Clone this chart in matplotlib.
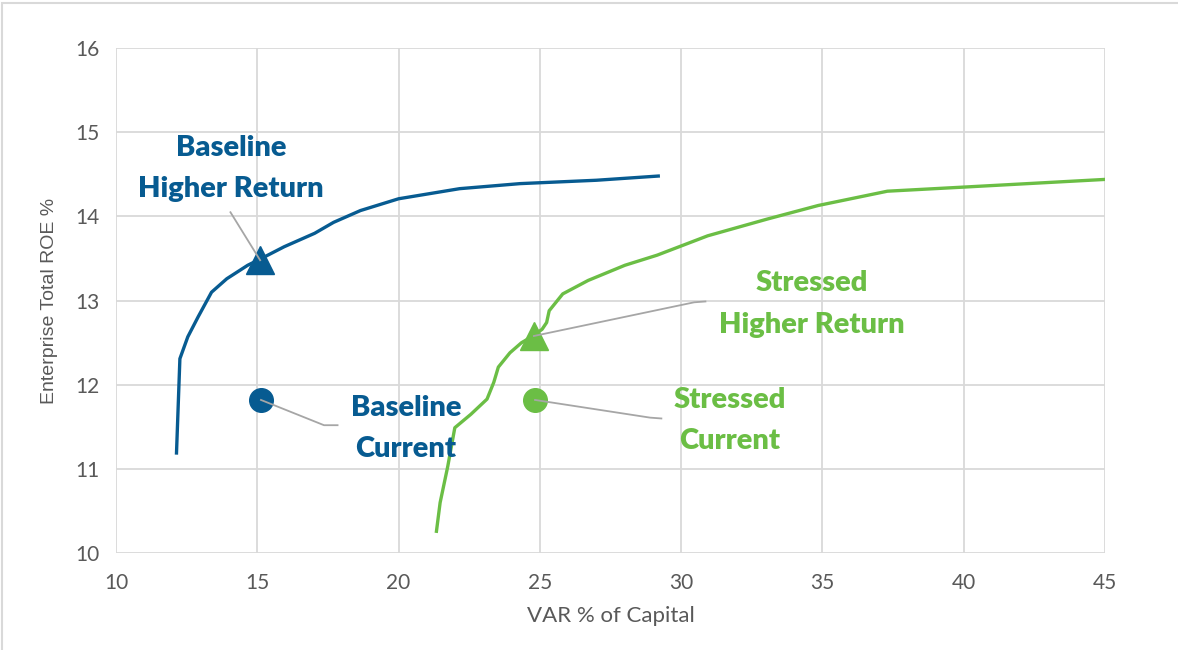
import matplotlib.pyplot as plt
from matplotlib.patches import Rectangle

# frontier curves
base_var = [12.14, 12.26, 12.54, 12.91, 13.38, 13.92, 14.66, 15.14, 15.95, 17.03,
            17.7, 18.65, 20.0, 22.16, 24.3, 27.0, 29.19]
base_roe = [11.19, 12.31, 12.57, 12.81, 13.1, 13.26, 13.42, 13.5, 13.64, 13.8,
            13.93, 14.07, 14.21, 14.33, 14.39, 14.43, 14.48]

stress_var = [21.34, 21.47, 21.74, 21.99, 22.56, 23.13, 23.37, 23.53, 23.94, 24.35,
              24.76, 25.08, 25.24, 25.33, 25.81, 26.71, 28.01, 29.15, 30.94, 33.06,
              34.85, 37.3, 40.07, 45.0]
stress_roe = [10.26, 10.6, 11.03, 11.49, 11.65, 11.83, 12.03, 12.21, 12.38, 12.5,
              12.58, 12.66, 12.74, 12.88, 13.08, 13.24, 13.42, 13.54, 13.77, 13.97,
              14.13, 14.3, 14.35, 14.44]

# portfolio points: (var, roe)
base_higher = (15.1, 13.48)
base_current = (15.13, 11.82)
stress_higher = (24.79, 12.58)
stress_current = (24.83, 11.82)

x_ticks = [10, 15, 20, 25, 30, 35, 40, 45]
y_ticks = [10, 11, 12, 13, 14, 15, 16]

blue = '#075B91'
green = '#6BBE45'
leader = '#A6A6A6'
label_font = 'Lato'

fig = plt.figure(figsize=(11.78, 6.5), dpi=100)
fig.patches.append(Rectangle((0.002, -0.05), 1.2, 1.045, transform=fig.transFigure,
                             fill=False, edgecolor='#D9D9D9', linewidth=1.5))
ax = fig.add_axes([0.0985, 0.149, 0.8395, 0.777])

ax.plot(base_var, base_roe, color=blue, linewidth=2.4, zorder=3)
ax.plot(stress_var, stress_roe, color=green, linewidth=2.4, zorder=3)

ax.plot(*base_higher, marker='^', markersize=20, color=blue, zorder=4)
ax.plot(*base_current, marker='o', markersize=17, color=blue, zorder=4)
ax.plot(*stress_higher, marker='^', markersize=20, color=green, zorder=4)
ax.plot(*stress_current, marker='o', markersize=17, color=green, zorder=4)

# leader lines from labels to points
ax.plot([14.05, base_higher[0]], [14.05, base_higher[1]], color=leader, lw=1.3, zorder=5)
ax.plot([base_current[0], 17.36, 17.84], [base_current[1], 11.52, 11.52], color=leader, lw=1.3, zorder=5)
ax.plot([stress_higher[0], 30.46, 30.86], [stress_higher[1], 12.98, 12.99], color=leader, lw=1.3, zorder=5)
ax.plot([stress_current[0], 28.9, 29.3], [stress_current[1], 11.61, 11.6], color=leader, lw=1.3, zorder=5)

lbl = dict(ha='center', va='center', fontsize=21, fontweight='heavy', family=label_font,
           linespacing=1.72, zorder=6)
ax.text(14.07, 14.57, 'Baseline\nHigher Return', color=blue, **lbl)
ax.text(20.26, 11.48, 'Baseline\nCurrent', color=blue, **lbl)
ax.text(34.63, 12.96, 'Stressed\nHigher Return', color=green, **lbl)
ax.text(31.73, 11.58, 'Stressed\nCurrent', color=green, **lbl)

ax.set_xlim(10, 45)
ax.set_ylim(10, 16)
ax.set_xticks(x_ticks)
ax.set_yticks(y_ticks)
ax.grid(True, color='#D9D9D9', linewidth=1.3, zorder=0)
ax.set_axisbelow(True)
for s in ax.spines.values():
    s.set_visible(False)
ax.tick_params(axis='x', length=0, labelsize=15, labelcolor='#595959', pad=14)
ax.tick_params(axis='y', length=0, labelsize=15, labelcolor='#595959', pad=12)
for t in ax.get_xticklabels() + ax.get_yticklabels():
    t.set_family(label_font)

ax.set_xlabel('VAR % of Capital', fontsize=16, color='#595959', family=label_font, labelpad=10)
ax.set_ylabel('Enterprise Total ROE %', fontsize=14, color='#595959', family='Liberation Sans', labelpad=12)

fig.savefig('out.png', dpi=100)
